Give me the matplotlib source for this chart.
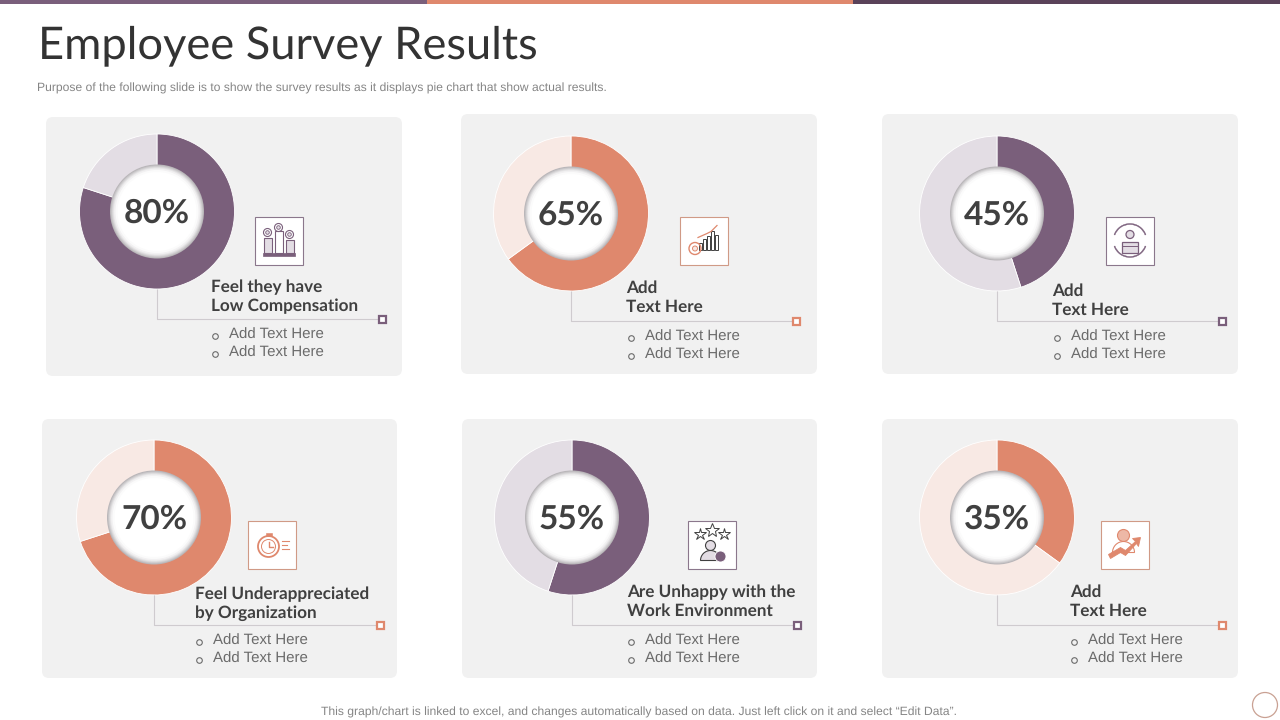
import matplotlib
matplotlib.use("Agg")
import matplotlib.pyplot as plt
from matplotlib.patches import Circle, FancyBboxPatch, Polygon, Rectangle, Wedge

plt.rcParams["text.hinting"] = "no_hinting"

W, H = 1280, 720

# chart data
percents = [80, 65, 45, 70, 55, 35]
headings = [
    ["Feel they have", "Low Compensation"],
    ["Add", "Text Here"],
    ["Add", "Text Here"],
    ["Feel Underappreciated", "by Organization"],
    ["Are Unhappy with the", "Work Environment"],
    ["Add", "Text Here"],
]
bullet_text = "Add Text Here"
title = "Employee Survey Results"
subtitle = "Purpose of the following slide is to show the survey results as it displays pie chart that show actual results."
footer = "This graph/chart is linked to excel, and changes automatically based on data. Just left click on it and select \u201cEdit Data\u201d."

# colours
PURPLE = "#7A5F7B"
PURPLE_LIGHT = "#E3DDE4"
ORANGE = "#DF886D"
ORANGE_LIGHT = "#F8E9E4"
DARK = "#5A4259"
CARD = "#F1F1F1"
TEXT = "#404040"
GREY = "#6B6B6B"
LINE = "#CFCBCF"

# layout in pixels, one row per panel
cards = [(46, 117, 402, 376), (461, 114, 817, 374), (882, 114, 1238, 374),
         (42, 419, 397, 678), (462, 419, 817, 678), (882, 419, 1238, 678)]
centers = [(157, 211.5), (571, 213.5), (997, 213.5), (154, 517.5), (572, 517.5), (997, 517.5)]
icon_boxes = [(254.5, 216.5), (680, 216.5), (1106, 216.5), (247.5, 520.5), (687.5, 520.5), (1100.5, 520.5)]
head_pos = [(211, 287), (626, 288), (1052, 291), (195, 594), (627, 592), (1070, 592)]
line_ends = [(382, 319), (796, 321), (1222, 321), (380, 625), (797, 625), (1222, 625)]
bullet_pos = [(229, 335), (645, 337), (1071, 337), (213, 641), (645, 641), (1088, 641)]
panel_colors = [(PURPLE, PURPLE_LIGHT), (ORANGE, ORANGE_LIGHT), (PURPLE, PURPLE_LIGHT),
                (ORANGE, ORANGE_LIGHT), (PURPLE, PURPLE_LIGHT), (ORANGE, ORANGE_LIGHT)]

R_OUT = 77.5
R_HOLE = 47

fig = plt.figure(figsize=(W / 100, H / 100), dpi=100, facecolor="white")

back = fig.add_axes([0, 0, 1, 1], zorder=0)
back.set_xlim(0, W)
back.set_ylim(H, 0)
back.axis("off")

top = fig.add_axes([0, 0, 1, 1], zorder=2)
top.set_xlim(0, W)
top.set_ylim(H, 0)
top.axis("off")
top.patch.set_alpha(0)


def icon_podium(ax, x, y, c, light):
    for dx, h, fc in [(-11, 15, light), (0, 22, "white"), (11, 13, light)]:
        ax.add_patch(Rectangle((x + dx - 4, y + 12 - h), 8, h, fc=fc, ec=c, lw=0.8))
    ax.add_patch(Rectangle((x - 16, y + 12), 32, 3, fc=c, ec=c, lw=0.5))
    for dx, cy in [(-11, -8), (0, -13), (11, -6)]:
        ax.add_patch(Circle((x + dx, y + cy), 4, fc="white", ec=c, lw=0.8))
        ax.add_patch(Circle((x + dx, y + cy), 1.8, fc=light, ec=c, lw=0.6))


def icon_bars(ax, x, y, c, light):
    for i, h in enumerate([7, 11, 14, 19, 15]):
        ax.add_patch(Rectangle((x - 5 + i * 4, y + 9 - h), 2.5, h, fc="white", ec=TEXT, lw=0.7))
    ax.plot([x - 6, x + 3, x + 7, x + 13], [y - 3, y - 7, y - 9, y - 15], color=c, lw=0.9)
    ax.add_patch(Circle((x - 9, y + 8), 6, fc="none", ec=c, lw=1))
    ax.add_patch(Circle((x - 9, y + 8), 2.5, fc=light, ec=c, lw=0.7))


def icon_cycle(ax, x, y, c, light):
    ax.add_patch(Wedge((x, y), 17, 20, 160, width=1, fc=c, ec=c, lw=0.3))
    ax.add_patch(Wedge((x, y), 17, 200, 340, width=1, fc=c, ec=c, lw=0.3))
    ax.add_patch(Rectangle((x - 8, y + 1), 16, 11, fc=light, ec=c, lw=0.9))
    ax.plot([x - 8, x + 8], [y + 5, y + 5], color=c, lw=0.7)
    ax.add_patch(Circle((x, y - 6), 4, fc=light, ec=c, lw=0.9))


def icon_stopwatch(ax, x, y, c, light):
    ax.add_patch(Circle((x - 3, y + 2), 10.5, fc="none", ec=c, lw=1.3))
    ax.add_patch(Circle((x - 3, y + 2), 7, fc="none", ec=c, lw=0.7))
    ax.plot([x - 3, x - 3, x + 1], [y - 3, y + 2, y + 2], color=c, lw=1)
    ax.add_patch(Rectangle((x - 6, y - 12), 6, 3, fc=c, ec=c, lw=0.4))
    for i, ln in enumerate([7, 5, 7]):
        ax.plot([x + 10, x + 10 + ln], [y - 4 + i * 4, y - 4 + i * 4], color=c, lw=0.8)


def icon_stars(ax, x, y, c, light):
    for dx, cy, s in [(-12, -11, 6), (0, -15, 7), (12, -11, 6)]:
        ax.plot([x + dx], [y + cy], marker="*", ms=s + 3, mfc="white", mec=TEXT, mew=0.7)
    ax.add_patch(Circle((x - 1, y + 1), 5, fc=light, ec=TEXT, lw=0.8))
    ax.add_patch(Wedge((x - 1, y + 16), 10, 180, 360, fc=light, ec=TEXT, lw=0.8))
    ax.add_patch(Circle((x + 9, y + 12), 5.5, fc=c, ec="white", lw=0.6))


def icon_person(ax, x, y, c, light):
    ax.add_patch(Circle((x - 1, y - 9), 6, fc="#EDB8A6", ec=c, lw=0.8))
    ax.add_patch(Wedge((x - 1, y + 8), 11, 180, 360, fc="white", ec=c, lw=0.8))
    pts = [(x - 16, y + 10), (x - 4, y + 3), (x + 1, y + 6), (x + 11, y - 3), (x + 8, y - 6),
           (x + 16, y - 7), (x + 14, y + 2), (x + 12, y - 1), (x + 1, y + 11), (x - 4, y + 8), (x - 14, y + 14)]
    ax.add_patch(Polygon(pts, closed=True, fc=c, ec=c, lw=0.6))


icons = [icon_podium, icon_bars, icon_cycle, icon_stopwatch, icon_stars, icon_person]

# top strip
back.add_patch(Rectangle((0, 0), 427, 4, fc=PURPLE, lw=0))
back.add_patch(Rectangle((427, 0), 426, 4, fc=ORANGE, lw=0))
back.add_patch(Rectangle((853, 0), 427, 4, fc=DARK, lw=0))

back.text(38, 46, title, fontsize=32.6, family="Lato", color="#333333", va="center")
back.text(37, 88, subtitle, fontsize=8.7, family="Liberation Sans", color="#858585", va="center")
back.text(639, 712, footer, fontsize=8.7, family="Liberation Sans", color="#858585", va="center", ha="center")
back.add_patch(Circle((1265, 705), 12.5, fc="white", ec="#C9A193", lw=0.9))

for i, pct in enumerate(percents):
    x0, y0, x1, y1 = cards[i]
    cx, cy = centers[i]
    main_c, light_c = panel_colors[i]

    back.add_patch(FancyBboxPatch((x0 + 6, y0 + 6), x1 - x0 - 12, y1 - y0 - 12,
                                  boxstyle="round,pad=6,rounding_size=7", fc=CARD, ec="none"))

    # connector under the donut
    ex, ey = line_ends[i]
    back.plot([cx, cx, ex], [cy + R_OUT - 2, ey, ey], color=LINE, lw=0.8)

    # donut from the percent value
    ax = fig.add_axes([(cx - R_OUT) / W, 1 - (cy + R_OUT) / H, 2 * R_OUT / W, 2 * R_OUT / H], zorder=1)
    ax.pie([pct, 100 - pct], colors=[main_c, light_c], startangle=90, counterclock=False,
           radius=1, wedgeprops={"edgecolor": "white", "linewidth": 0.6})
    ax.set_xlim(-1, 1)
    ax.set_ylim(-1, 1)
    ax.axis("off")

    # hole with soft grey rim
    top.add_patch(Circle((cx, cy), R_HOLE, fc="#B9B6B9", ec="none"))
    for r, col in [(46, "#C8C6C8"), (45, "#D8D6D8"), (44, "#E6E5E6"), (43, "#F2F1F2"), (41.5, "#FBFBFB"), (39.5, "white")]:
        top.add_patch(Circle((cx, cy), r, fc=col, ec="none"))
    top.text(cx, cy + 2, f"{pct}%", fontsize=24, family="Lato", fontweight="bold", color=TEXT,
             ha="center", va="center")

    # icon box
    bx, by = icon_boxes[i]
    box_edge = "#8B778C" if main_c == PURPLE else "#D09A86"
    top.add_patch(Rectangle((bx, by), 48, 48, fc="white", ec=box_edge, lw=0.8))
    icons[i](top, bx + 24, by + 24, main_c, light_c)

    # heading
    hx, hy = head_pos[i]
    for j, line in enumerate(headings[i]):
        top.text(hx, hy + j * 19, line, fontsize=12.3, family="Lato", fontweight="bold", color=TEXT, va="center")

    # bullets
    tx, ty = bullet_pos[i]
    for j in range(2):
        top.add_patch(Circle((tx - 13.5, ty + 1.5 + j * 18), 2.8, fc="none", ec=GREY, lw=0.8))
        top.text(tx, ty + j * 18, bullet_text, fontsize=10.8, family="Liberation Sans", color=GREY, va="center")

    # end marker
    top.add_patch(Rectangle((ex - 3.5, ey - 3.5), 7, 7, fc="white", ec=main_c, lw=1.6))

fig.savefig("out.png", dpi=100)
